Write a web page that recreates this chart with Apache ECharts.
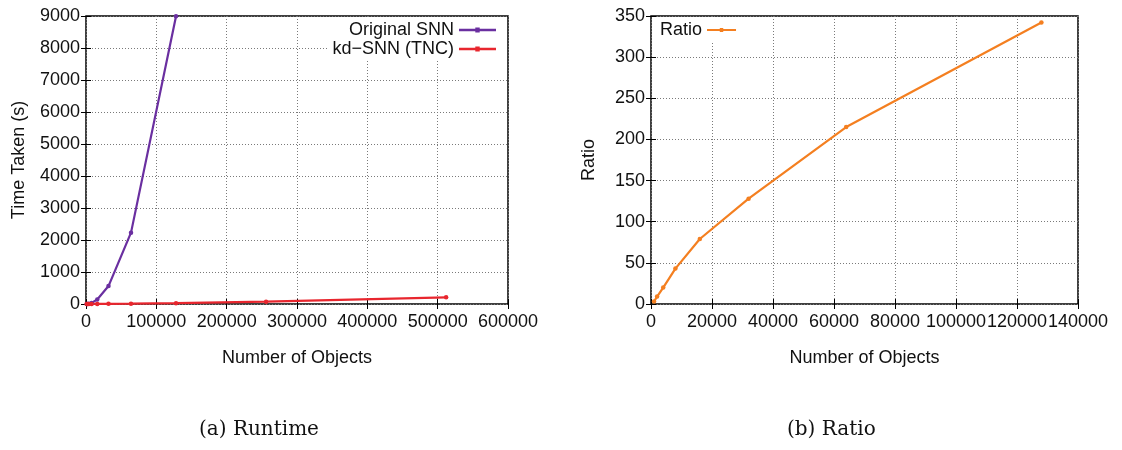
<!DOCTYPE html>
<html>
<head>
<meta charset="utf-8">
<script src="https://cdn.jsdelivr.net/npm/echarts@6/dist/echarts.min.js"></script>
<style>
  html, body { margin: 0; padding: 0; background: #fff; }
  #chart { width: 1122px; height: 450px; }
</style>
</head>
<body>
<div id="chart"></div>
<script>
  // runtime data (left panel)
  var snnObjects = [1000, 2000, 4000, 8000, 16000, 32000, 64000, 128000];
  var snnTime = [0.5, 2.2, 9, 35, 140, 560, 2230, 8990];
  var kdObjects = [1000, 2000, 4000, 8000, 16000, 32000, 64000, 128000, 256000, 512000];
  var kdTime = [0.2, 0.25, 0.45, 0.8, 1.8, 4.4, 10.4, 26, 72, 210];
  // ratio data (right panel)
  var ratioObjects = [1000, 2000, 4000, 8000, 16000, 32000, 64000, 128000];
  var ratioValues = [3, 9, 20, 43, 79, 128, 215, 342];

  var pairs = function (xs, ys) {
    return xs.map(function (x, i) { return [x, ys[i]]; });
  };

  var labelFont = 'Liberation Sans, Arial, sans-serif';
  var gridLine = { show: true, lineStyle: { color: '#7a7a7a', type: [1, 2], width: 1 } };
  // line with a small dot in the middle, like the gnuplot key sample
  var keyIcon = 'path://M0,1.3 H37 V3.7 H0 Z M16.3,0 H20.7 V5 H16.3 Z';

  function tickLabel(margin) {
    return {
      color: '#111', fontSize: 18, fontFamily: labelFont, margin: margin,
      showMinLabel: true, showMaxLabel: true, hideOverlap: false,
      formatter: function (v) { return String(v); }
    };
  }

  // main axis (with labels) and mirror axis (ticks only)
  function valueAxis(opt) {
    return Object.assign({
      type: 'value',
      axisLine: { show: false },
      axisTick: { show: true, inside: true, length: 5, lineStyle: { color: '#000' } },
      splitLine: gridLine,
      nameLocation: 'middle',
      nameTextStyle: { color: '#111', fontSize: 18, fontFamily: labelFont }
    }, opt);
  }
  function mirrorAxis(opt) {
    return Object.assign({
      type: 'value',
      axisLine: { show: false },
      axisTick: { show: true, inside: true, length: 5, lineStyle: { color: '#000' } },
      axisLabel: { show: false },
      splitLine: { show: false }
    }, opt);
  }

  var chart = echarts.init(document.getElementById('chart'));
  chart.setOption({
    animation: false,
    backgroundColor: '#fff',
    grid: [
      { left: 86, top: 16, width: 422, height: 288, show: true, borderColor: '#000', borderWidth: 1.5, backgroundColor: 'transparent' },
      { left: 651, top: 16, width: 427, height: 288, show: true, borderColor: '#000', borderWidth: 1.5, backgroundColor: 'transparent' }
    ],
    xAxis: [
      valueAxis({ gridIndex: 0, min: 0, max: 600000, interval: 100000, name: 'Number of Objects', nameGap: 45, axisLabel: tickLabel(9) }),
      mirrorAxis({ gridIndex: 0, position: 'top', min: 0, max: 600000, interval: 100000 }),
      valueAxis({ gridIndex: 1, min: 0, max: 140000, interval: 20000, name: 'Number of Objects', nameGap: 45, axisLabel: tickLabel(9) }),
      mirrorAxis({ gridIndex: 1, position: 'top', min: 0, max: 140000, interval: 20000 })
    ],
    yAxis: [
      valueAxis({ gridIndex: 0, min: 0, max: 9000, interval: 1000, name: 'Time Taken (s)', nameGap: 58, axisLabel: tickLabel(6) }),
      mirrorAxis({ gridIndex: 0, position: 'right', min: 0, max: 9000, interval: 1000 }),
      valueAxis({ gridIndex: 1, min: 0, max: 350, interval: 50, name: 'Ratio', nameGap: 53, axisLabel: tickLabel(6) }),
      mirrorAxis({ gridIndex: 1, position: 'right', min: 0, max: 350, interval: 50 })
    ],
    legend: [
      {
        data: ['Original SNN', 'kd\u2212SNN (TNC)'],
        orient: 'vertical',
        align: 'right',
        right: 615,
        top: 19,
        padding: [2, 11, 2, 4],
        itemGap: 1,
        itemWidth: 37,
        itemHeight: 5,
        icon: keyIcon,
        backgroundColor: '#fff',
        textStyle: { color: '#111', fontSize: 18, fontFamily: labelFont }
      },
      {
        data: ['Ratio'],
        orient: 'vertical',
        align: 'right',
        left: 652,
        top: 19,
        padding: [2, 8, 4, 8],
        itemWidth: 29,
        itemHeight: 5,
        icon: keyIcon,
        backgroundColor: '#fff',
        textStyle: { color: '#111', fontSize: 18, fontFamily: labelFont }
      }
    ],
    graphic: [
      { type: 'text', left: 199, top: 420, style: { text: '(a) Runtime', fill: '#111', font: '20px "DejaVu Serif", serif' } },
      { type: 'text', left: 787, top: 420, style: { text: '(b) Ratio', fill: '#111', font: '20px "DejaVu Serif", serif' } }
    ],
    series: [
      {
        name: 'Original SNN', type: 'line', xAxisIndex: 0, yAxisIndex: 0,
        data: pairs(snnObjects, snnTime),
        symbol: 'circle', symbolSize: 4.5,
        lineStyle: { color: '#6a2fa0', width: 2.2 },
        itemStyle: { color: '#6a2fa0' }
      },
      {
        name: 'kd\u2212SNN (TNC)', type: 'line', xAxisIndex: 0, yAxisIndex: 0,
        data: pairs(kdObjects, kdTime),
        symbol: 'circle', symbolSize: 4.5,
        lineStyle: { color: '#e8262e', width: 2.2 },
        itemStyle: { color: '#e8262e' }
      },
      {
        name: 'Ratio', type: 'line', xAxisIndex: 2, yAxisIndex: 2,
        data: pairs(ratioObjects, ratioValues),
        symbol: 'circle', symbolSize: 4.5,
        lineStyle: { color: '#f47f20', width: 2.2 },
        itemStyle: { color: '#f47f20' }
      }
    ]
  });
</script>
</body>
</html>
